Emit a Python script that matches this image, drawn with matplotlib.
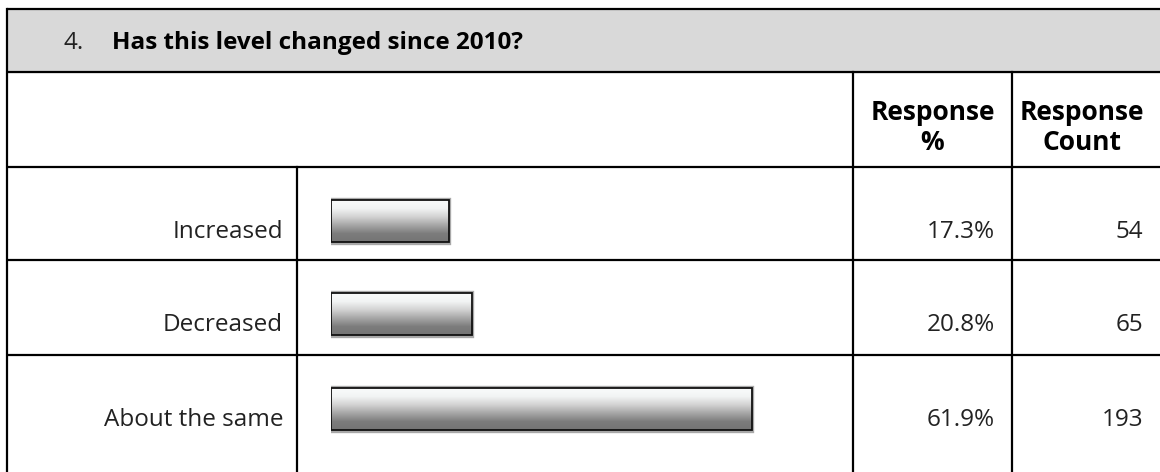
import numpy as np
import matplotlib
matplotlib.use('Agg')
import matplotlib.pyplot as plt
from matplotlib.colors import LinearSegmentedColormap

plt.rcParams['font.family'] = ['Open Sans', 'DejaVu Sans']

# data
question_no = "4."
question = "Has this level changed since 2010?"
answers = ["Increased", "Decreased", "About the same"]
percents = [17.3, 20.8, 61.9]
counts = [54, 65, 193]
col_headers = [("Response", "%"), ("Response", "Count")]

W, H = 1160, 472
fig = plt.figure(figsize=(W / 100, H / 100), dpi=100)
ax = fig.add_axes([0, 0, 1, 1])
ax.set_xlim(0, W)
ax.set_ylim(H, 0)
ax.axis('off')

# table layout (pixels)
x_left, x_lab, x_pct, x_cnt, x_right = 7, 297, 853, 1012, 1165
y_top, y_head, y_sub = 9, 72, 167
row_lines = [260, 355, 475]
row_tops = [y_sub] + row_lines[:-1]
lw = 1.6

ax.fill_between([x_left, x_right], y_top, y_head, color='#d9d9d9', zorder=0)
for y in [y_top, y_head, y_sub] + row_lines[:-1]:
    ax.plot([x_left, x_right], [y, y], color='black', lw=lw, solid_capstyle='butt')
ax.plot([x_left, x_left], [y_top, H + 5], color='black', lw=lw)
ax.plot([x_lab, x_lab], [y_sub, H + 5], color='black', lw=lw)
for x in (x_pct, x_cnt):
    ax.plot([x, x], [y_head, H + 5], color='black', lw=lw)

fs = 17.5
ax.text(63, 49, question_no, fontsize=17.5, va='baseline', ha='left', color='#222222')
ax.text(112, 49, question, fontsize=17.5, va='baseline', ha='left', weight='bold', color='black')
for cx, (l1, l2) in zip([(x_pct + x_cnt) / 2, 1082], col_headers):
    ax.text(cx, 120, l1, fontsize=19, weight='bold', ha='center', va='baseline')
    ax.text(cx, 150, l2, fontsize=19, weight='bold', ha='center', va='baseline')

bar_centers = []
for top, bot, lab, p, c in zip(row_tops, row_lines, answers, percents, counts):
    base = top + 71
    ax.text(283, base, lab, fontsize=fs, ha='right', va='baseline', color='#222222')
    ax.text(995, base, f"{p}%", fontsize=fs, ha='right', va='baseline', color='#222222')
    ax.text(1143, base, str(c), fontsize=fs, ha='right', va='baseline', color='#222222')
    bar_centers.append(top + 54)

# bars in their own axes, x in percent
px_per_pct = 6.8
bar_x0 = 331
xmax = 80
bx = fig.add_axes([bar_x0 / W, 0, xmax * px_per_pct / W, 1])
bx.set_xlim(0, xmax)
bx.set_ylim(H, 0)
bx.axis('off')
bx.patch.set_alpha(0)

cmap = LinearSegmentedColormap.from_list(
    'bar', ['#f9fbfb', '#f2f4f4', '#d2d2d2', '#a6a6a6', '#7c7c7c', '#747474'])
grad = np.linspace(0, 1, 256).reshape(-1, 1)
bh = 42
bx.barh(bar_centers, percents, height=bh + 1.5, color='none', edgecolor='#a8a8a8', lw=2.4)
bars = bx.barh(bar_centers, percents, height=bh, color='none', edgecolor='#111111', lw=1.3, zorder=3)
for b, p, yc in zip(bars, percents, bar_centers):
    im = bx.imshow(grad, cmap=cmap, aspect='auto', extent=[0, p, yc + bh / 2, yc - bh / 2],
                   zorder=2, interpolation='bilinear')
    im.set_clip_path(b)
bx.set_xlim(0, xmax)
bx.set_ylim(H, 0)

fig.savefig('out.png', dpi=100)
